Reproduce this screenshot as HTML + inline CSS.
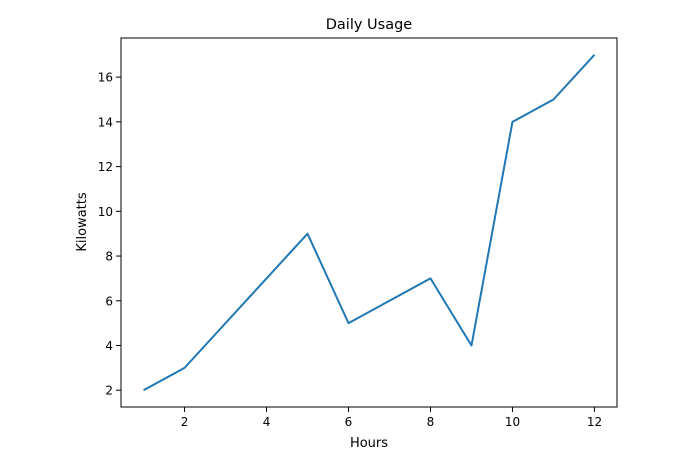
<!DOCTYPE html>
<html><head><meta charset="utf-8"><style>
body{margin:0;background:#fff;}
svg{display:block;font-family:"DejaVu Sans","Liberation Sans",sans-serif;}
</style></head><body>
<svg id="chart" width="689" height="459">
<text x="369" y="29" font-size="14.5" text-anchor="middle">Daily Usage</text>
<text x="369" y="447" font-size="13" text-anchor="middle">Hours</text>
<text transform="translate(86,222) rotate(-90)" font-size="13" text-anchor="middle">Kilowatts</text>
<g id="ticks"></g>
<path id="line" fill="none" stroke="#1f77b4" stroke-width="2" stroke-linejoin="round"/>
<rect x="121" y="38" width="496" height="369" fill="none" stroke="#000" stroke-width="1"/>
</svg>
<script>
const hours=[1,2,3,4,5,6,7,8,9,10,11,12];
const kilowatts=[2,3,5,7,9,5,6,7,4,14,15,17];
const xTicks=[2,4,6,8,10,12];
const yTicks=[2,4,6,8,10,12,14,16];
const X0=121,X1=617,Y0=407,Y1=38,xmin=0.45,xmax=12.55,ymin=1.25,ymax=17.75;
const sx=v=>X0+(v-xmin)/(xmax-xmin)*(X1-X0);
const sy=v=>Y0-(v-ymin)/(ymax-ymin)*(Y0-Y1);
const NS="http://www.w3.org/2000/svg";
const g=document.getElementById('ticks');
function mk(t,a){const e=document.createElementNS(NS,t);for(const k in a)e.setAttribute(k,a[k]);g.appendChild(e);return e;}
xTicks.forEach(v=>{
const l=mk('line',{x1:sx(v),x2:sx(v),y1:Y0,y2:Y0+5,stroke:'#000'});


const t=mk('text',{x:sx(v),y:Y0+19,'font-size':12,'text-anchor':'middle'});t.textContent=v;


});
yTicks.forEach(v=>{
const l=mk('line',{x1:X0-5,x2:X0,y1:sy(v),y2:sy(v),stroke:'#000'});


const t=mk('text',{x:X0-8,y:sy(v)+4.5,'font-size':12,'text-anchor':'end'});t.textContent=v;


});
document.getElementById('line').setAttribute('d',hours.map((h,i)=>(i?'L':'M')+sx(h)+','+sy(kilowatts[i])).join(''));
</script>
</body></html>
